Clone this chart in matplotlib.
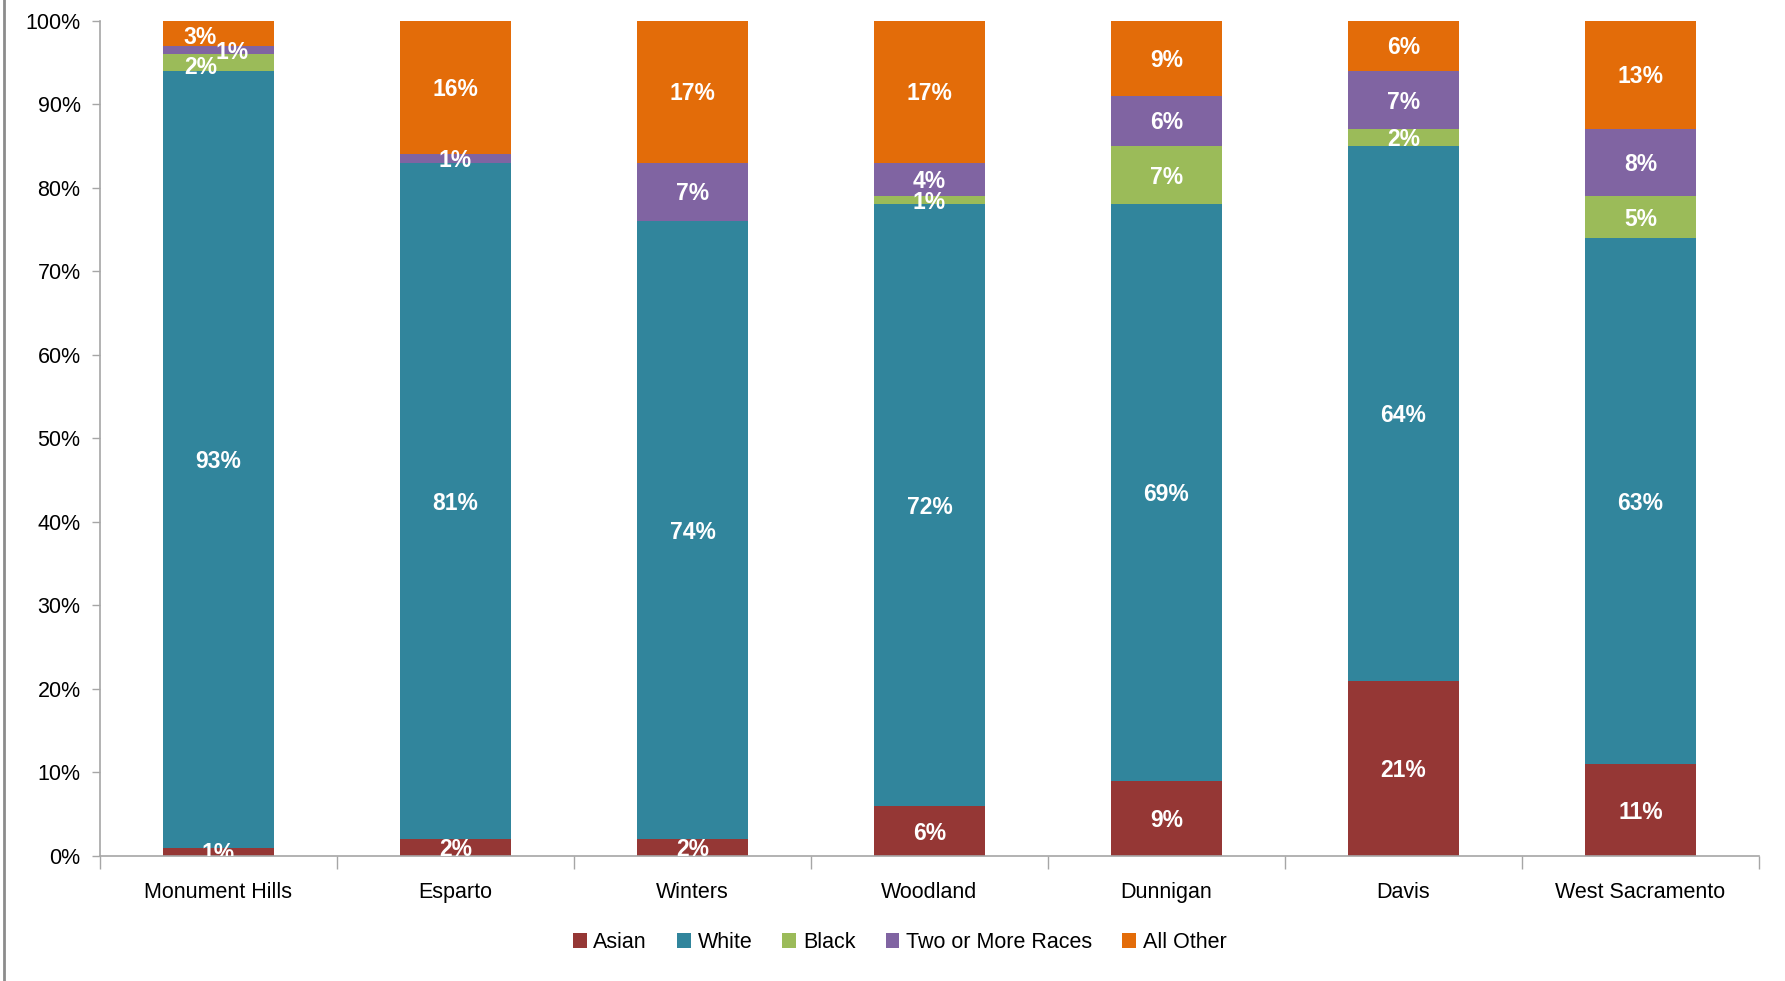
import matplotlib
matplotlib.use("Agg")

import numpy as np
import matplotlib.pyplot as plt
from matplotlib.patches import Patch
from matplotlib.lines import Line2D


# -----------------------------
# DANE
# -----------------------------

cities = ["Monument Hills", "Esparto", "Winters", "Woodland",
          "Dunnigan", "Davis", "West Sacramento"]

asian = [1, 2, 2, 6, 9, 21, 11]
white = [93, 81, 74, 72, 69, 64, 63]
black = [2, 0, 0, 1, 7, 2, 5]
two_or_more = [1, 1, 7, 4, 6, 7, 8]
all_other = [3, 16, 17, 17, 9, 6, 13]

series_names = ["Asian", "White", "Black", "Two or More Races", "All Other"]
colors = ["#953735", "#31859C", "#9BBB59", "#8064A2", "#E36C09"]

# przesunięcia etykiet (punkty) tam, gdzie Excel je rozsunął
label_shift = {
    (0, 2): (-13, -4),
    (0, 3): (10, -2),
    (0, 4): (-13, -3),
}

plt.rcParams["font.family"] = ["Liberation Sans", "DejaVu Sans"]

GRAY = "#A6A6A6"


def main():

    series = [asian, white, black, two_or_more, all_other]
    x = np.arange(len(cities))

    fig = plt.figure(figsize=(17.85, 9.81), dpi=100, facecolor="white")
    ax = fig.add_axes([0.056, 0.1274, 0.9294, 0.8516])

    bottom = np.zeros(len(cities))

    for si, (vals, col) in enumerate(zip(series, colors)):
        vals = np.array(vals, dtype=float)
        ax.bar(x, vals, 0.465, bottom=bottom, color=col,
               edgecolor="none", zorder=2)

        for ci, v in enumerate(vals):
            if v <= 0:
                continue
            dx, dy = label_shift.get((ci, si), (0, -1.5))
            ax.annotate(
                f"{int(v)}%",
                (x[ci], bottom[ci] + v / 2),
                xytext=(dx, dy),
                textcoords="offset points",
                ha="center",
                va="center",
                color="white",
                fontweight="bold",
                fontsize=16.5,
                annotation_clip=False,
                clip_on=True,
                zorder=3,
            )

        bottom += vals

    ax.set_xlim(-0.5, len(cities) - 0.5)
    ax.set_ylim(0, 100)

    ax.set_yticks(np.arange(0, 101, 10))
    ax.set_yticklabels([f"{v}%" for v in range(0, 101, 10)])

    ax.set_xticks(x)
    ax.set_xticklabels(cities)
    ax.set_xticks(np.arange(-0.5, len(cities), 1), minor=True)

    ax.tick_params(axis="y", length=6, width=1, color=GRAY,
                   labelsize=15.5, pad=8)
    ax.tick_params(axis="x", which="major", length=0,
                   labelsize=15.5, pad=19)
    ax.tick_params(axis="x", which="minor", length=9, width=1, color=GRAY)

    for side in ["top", "right"]:
        ax.spines[side].set_visible(False)
    for side in ["left", "bottom"]:
        ax.spines[side].set_color(GRAY)
        ax.spines[side].set_linewidth(1.2)

    handles = [Patch(facecolor=c, edgecolor="none") for c in colors]
    fig.legend(
        handles,
        series_names,
        loc="center",
        bbox_to_anchor=(0.504, 0.039),
        ncol=5,
        frameon=False,
        fontsize=15.5,
        handlelength=0.65,
        handleheight=0.65,
        handletextpad=0.3,
        columnspacing=1.4,
    )

    # ramka wykresu po lewej
    fig.add_artist(Line2D([0.002, 0.002], [0, 1],
                          transform=fig.transFigure,
                          color="#8C8C8C", linewidth=2))

    fig.savefig("out.png", dpi=100, facecolor="white")
    plt.close(fig)


if __name__ == "__main__":
    main()
